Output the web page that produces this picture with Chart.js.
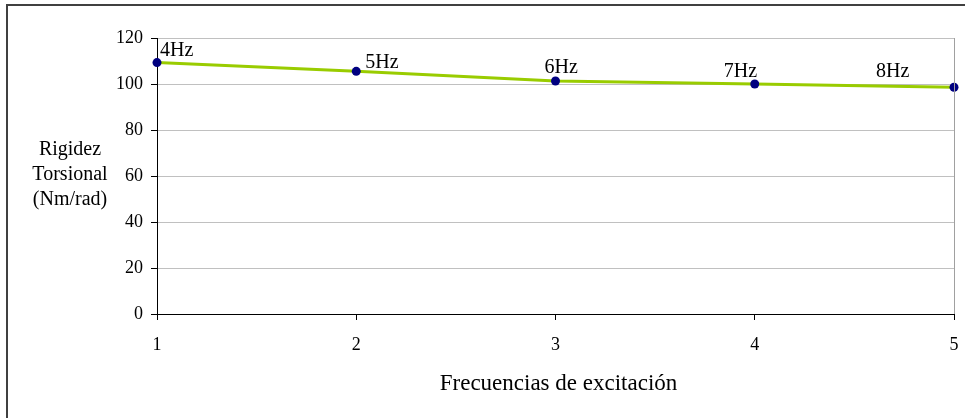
<!DOCTYPE html>
<html>
<head>
<meta charset="utf-8">
<script src="https://cdn.jsdelivr.net/npm/chart.js@4/dist/chart.umd.min.js"></script>
<style>
  html, body { margin: 0; padding: 0; background: #ffffff; }
  #wrap { width: 965px; height: 418px; position: relative; }
</style>
</head>
<body>
<div id="wrap"><canvas id="c" width="965" height="418"></canvas></div>
<script>
// Torsional stiffness measured at each excitation frequency
const positions = [1, 2, 3, 4, 5];
const stiffness = [109.3, 105.5, 101.3, 100.0, 98.6];
const pointLabels = ['4Hz', '5Hz', '6Hz', '7Hz', '8Hz'];
const yTitleLines = ['Rigidez', 'Torsional', '(Nm/rad)'];
const xTitle = 'Frecuencias de excitación';

// Where each point label sits relative to its marker (left edge, vertical centre)
const labelOffsets = [[3, -12], [9, -9], [-11, -13], [-31, -12], [-78, -15]];

const FONT = '"Liberation Serif", "Times New Roman", serif';

const decorations = {
  id: 'decorations',
  beforeDraw(chart) {
    const ctx = chart.ctx;
    ctx.save();
    ctx.fillStyle = '#ffffff';
    ctx.fillRect(0, 0, chart.width, chart.height);
    // outer frame (left and top edges)
    ctx.strokeStyle = '#404040';
    ctx.lineWidth = 2;
    ctx.beginPath();
    ctx.moveTo(7, chart.height);
    ctx.lineTo(7, 5);
    ctx.lineTo(chart.width, 5);
    ctx.stroke();
    ctx.restore();
  },
  afterDatasetsDraw(chart) {
    const ctx = chart.ctx;
    const area = chart.chartArea;
    ctx.save();
    // right border of the plot area
    ctx.strokeStyle = '#a0a0a0';
    ctx.lineWidth = 1;
    ctx.beginPath();
    ctx.moveTo(Math.round(area.right) + 0.5, area.top);
    ctx.lineTo(Math.round(area.right) + 0.5, area.bottom);
    ctx.stroke();

    // point labels
    ctx.fillStyle = '#000000';
    ctx.font = '20px ' + FONT;
    ctx.textAlign = 'left';
    ctx.textBaseline = 'middle';
    const meta = chart.getDatasetMeta(0);
    meta.data.forEach((pt, i) => {
      const off = labelOffsets[i];
      ctx.fillText(pointLabels[i], pt.x + off[0], pt.y + off[1]);
    });

    // y axis title, horizontal, three lines
    ctx.font = '20px ' + FONT;
    ctx.textAlign = 'center';
    yTitleLines.forEach((line, i) => {
      ctx.fillText(line, 70, 150 + i * 25);
    });

    // x axis title
    ctx.font = '23px ' + FONT;
    ctx.fillText(xTitle, (area.left + area.right) / 2 + 3, 384);
    ctx.restore();
  }
};

new Chart(document.getElementById('c'), {
  type: 'line',
  data: {
    datasets: [{
      data: positions.map((x, i) => ({ x: x, y: stiffness[i] })),
      borderColor: '#99cc00',
      borderWidth: 3,
      pointBackgroundColor: '#000080',
      pointBorderColor: '#000080',
      pointRadius: 4.5,
      pointBorderWidth: 0,
      tension: 0,
      clip: false
    }]
  },
  options: {
    responsive: false,
    animation: false,
    devicePixelRatio: 1,
    layout: { padding: { left: 0, top: 38, right: 11, bottom: 0 } },
    plugins: {
      legend: { display: false },
      tooltip: { enabled: false },
      title: { display: false }
    },
    scales: {
      x: {
        type: 'linear',
        min: 1,
        max: 5,
        afterFit(scale) {
          scale.height = 104;
          scale.paddingLeft = 0;
          scale.paddingRight = 0;
        },
        ticks: {
          stepSize: 1,
          color: '#000000',
          padding: 14,
          font: { family: FONT, size: 18 }
        },
        grid: {
          drawOnChartArea: false,
          drawTicks: true,
          tickLength: 6,
          tickColor: '#000000'
        },
        border: { color: '#000000', width: 1 }
      },
      y: {
        min: 0,
        max: 120,
        afterFit(scale) {
          scale.width = 157;
          scale.paddingTop = 0;
          scale.paddingBottom = 0;
        },
        ticks: {
          stepSize: 20,
          color: '#000000',
          padding: 8,
          font: { family: FONT, size: 18 }
        },
        grid: {
          color: '#c0c0c0',
          drawTicks: true,
          tickLength: 6,
          tickColor: '#000000'
        },
        border: { color: '#000000', width: 1 }
      }
    }
  },
  plugins: [decorations]
});
</script>
</body>
</html>
